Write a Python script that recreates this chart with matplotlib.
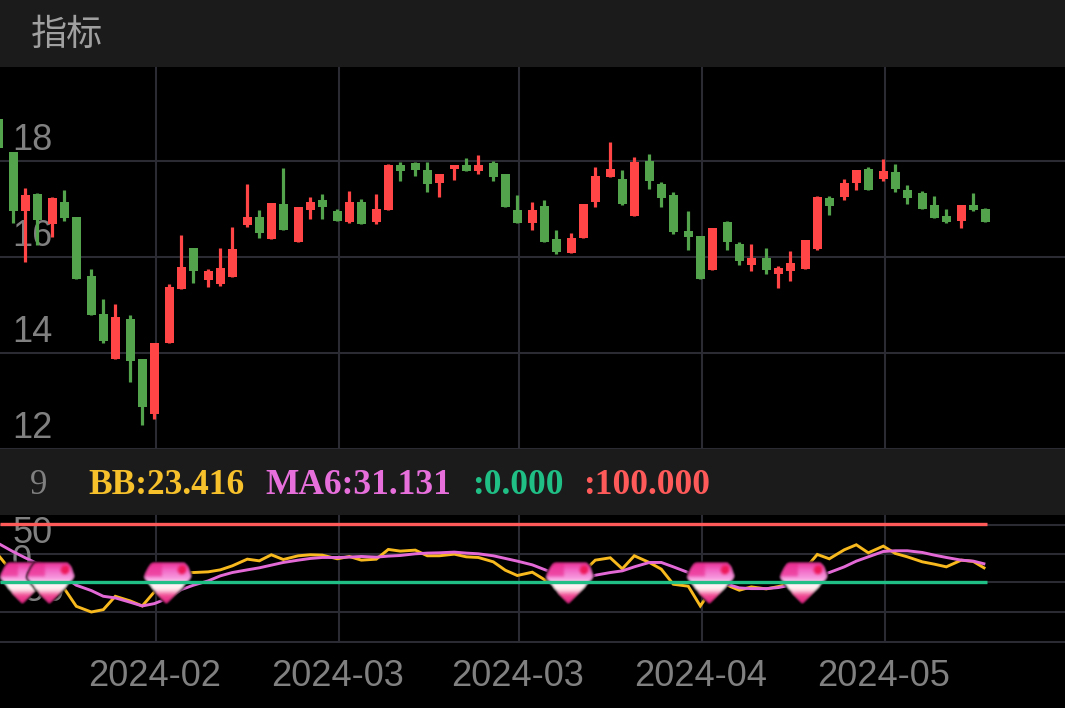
import numpy as np
import matplotlib
matplotlib.use("Agg")
import matplotlib.pyplot as plt
from matplotlib.offsetbox import OffsetImage, AnnotationBbox
from matplotlib.patches import Rectangle

opens = [18.885,18.19,16.975,17.32,16.70,17.15,16.84,15.61,14.82,13.89,14.71,13.88,12.75,14.21,15.35,16.20,15.53,15.45,15.60,16.68,16.85,16.39,17.11,16.315,16.98,17.19,16.97,16.73,
17.15,16.73,16.98,17.92,17.96,17.82,17.545,17.84,17.92,17.795,17.96,17.74,16.99,16.72,17.07,16.39,16.09,16.40,17.16,17.68,17.64,16.86,18.0,17.54,17.30,16.545,16.45,
15.74,16.75,16.28,15.84,15.99,15.66,15.72,15.77,16.18,17.23,17.27,17.56,17.84,17.64,17.79,17.40,17.34,17.09,16.86,16.76,17.09,17.0]
highs = [19.09,18.19,17.44,17.35,17.27,17.41,16.84,15.77,15.13,15.04,14.80,13.88,14.21,15.44,16.46,16.20,15.77,16.19,16.63,17.54,16.98,17.13,17.86,17.05,17.27,17.32,17.02,17.385,
17.22,17.32,17.95,17.98,17.98,17.98,17.73,17.93,18.07,18.135,18.0,17.74,17.30,17.16,17.19,16.57,16.51,17.11,17.88,18.41,17.82,18.09,18.16,17.57,17.36,16.97,16.45,
16.615,16.75,16.32,16.28,16.2,15.83,16.13,16.365,17.29,17.29,17.64,17.82,17.88,18.05,17.94,17.50,17.385,17.28,17.0,17.10,17.35,17.04]
lows = [18.27,16.71,15.91,16.26,16.42,16.77,15.56,14.80,14.21,13.89,13.41,12.52,12.64,14.21,15.35,15.475,15.38,15.41,15.60,16.63,16.41,16.39,16.57,16.315,16.81,16.81,16.77,16.71,
16.705,16.705,16.98,17.6,17.70,17.37,17.27,17.61,17.795,17.745,17.6,17.05,16.72,16.58,16.33,16.07,16.09,16.40,17.06,17.68,17.10,16.86,17.42,17.06,16.48,16.16,15.55,
15.74,16.16,15.84,15.72,15.66,15.37,15.51,15.77,16.16,16.89,17.2,17.40,17.40,17.59,17.36,17.11,17.01,16.83,16.71,16.615,16.96,16.73]
closes = [18.274,16.97,17.30,16.78,17.23,16.82,15.56,14.80,14.27,14.76,13.85,12.89,14.21,15.39,15.80,15.72,15.71,15.79,16.18,16.85,16.52,17.13,16.57,17.05,17.16,17.05,16.77,17.155,
16.705,17.0,17.92,17.80,17.82,17.54,17.73,17.93,17.795,17.93,17.68,17.05,16.72,16.98,16.33,16.12,16.40,17.11,17.70,17.85,17.11,17.98,17.59,17.23,16.54,16.43,15.55,
16.615,16.33,15.92,15.99,15.73,15.79,15.88,16.365,17.26,17.07,17.55,17.82,17.41,17.80,17.42,17.23,17.01,16.83,16.73,17.10,16.99,16.74]

bb = [46.5,14.9,-5.2,-13.8,-16.7,-10.9,-41.4,-51.2,-47.2,-24.2,-32.2,-40.8,-16.7,12.0,16.1,16.6,17.8,21.2,28.1,39.6,36.7,47.1,39.0,45.4,47.1,46.5,40.2,44.2,
37.9,39.6,56.3,53.4,55.1,45.4,45.4,48.2,43.6,42.5,35.0,20.6,11.5,17.2,4.6,-5.2,-5.2,17.8,37.9,41.9,23.0,45.4,33.9,22.4,-3.5,-6.9,
-40.8,-10.9,-5.2,-13.8,-8.1,-11.5,-7.5,-2.3,23.5,47.7,40.2,55.7,64.3,50.5,62.0,49.4,43.6,35.0,31.0,26.4,37.9,35.6,23.4]
ma6 = [66.6,52.3,41.9,32.1,21.8,9.2,-5.2,-14.4,-24.2,-27.0,-34.5,-40.8,-36.8,-26.5,-12.7,-5.2,2.3,10.9,16.6,21.2,24.7,29.3,33.9,37.9,40.8,42.5,42.5,43.1,
44.2,43.1,44.8,45.9,48.8,50.0,50.5,51.7,50.0,48.8,45.4,40.8,36.2,29.8,21.8,13.8,6.3,6.3,12.0,16.6,19.5,26.4,33.9,33.9,26.4,16.6,
3.4,-2.3,-3.5,-9.8,-11.0,-11.0,-9.2,-5.2,2.3,10.3,16.6,26.4,36.2,43.6,52.8,54.0,54.0,51.1,46.5,42.5,37.9,36.2,31.1]
lower_band = 0
upper_band = 100
signal_idx = [2, 4, 13, 44, 55, 62]

price_ticks = [18, 16, 14, 12]
osc_grid = [98, 48, 0, -51, -102]
osc_labels = ["50", "0", "-50"]
tick_idx = [12, 26, 40, 54, 68]
tick_labels = ["2024-02", "2024-03", "2024-03", "2024-04", "2024-05"]
legend_items = [("BB:23.416", "#f7c12c", 88), ("MA6:31.131", "#e66fdc", 265),
                (":0.000", "#1fbf86", 472), (":100.000", "#ff5a5a", 583)]

W, H = 1065, 708
plt.rcParams['font.family'] = ['Liberation Sans', 'Noto Sans CJK SC', 'DejaVu Sans']
fig = plt.figure(figsize=(W/100, H/100), dpi=100, facecolor='black')

def axes_px(x0, y0, x1, y1):
    return fig.add_axes([x0/W, 1-y1/H, (x1-x0)/W, (y1-y0)/H])

idx = np.arange(len(opens))
pos = np.floor(4.33*idx - 0.265)          # candle slots snap to whole points (3 px)
xlim = ((0-1.3)/3, (W-1.3)/3)
GRID = '#2b2b33'
RED, GREEN = '#ff4545', '#53a34c'
GRAY = '#808080'

# main
ax = axes_px(0, 67, W, 449)
ax.set_facecolor('black')
ax.set_xlim(xlim)
ax.set_ylim(18-(449-161.5)/48, 18+(161.5-67)/48)
for sp in ax.spines.values():
    sp.set_visible(False)
ax.set_xticks([]); ax.set_yticks([])
for t in price_ticks:
    ax.axhline(t, color=GRID, lw=1.5, zorder=1)
for i in tick_idx:
    ax.axvline(pos[i]+0.5, color=GRID, lw=1.5, zorder=1)
for p, o, h, l, c in zip(pos, opens, highs, lows, closes):
    col = RED if c >= o else GREEN
    ax.vlines(p, l, h, color=col, lw=2.3, zorder=3)
    ax.add_patch(Rectangle((p-1.5, min(o, c)), 3, abs(c-o), fc=col, ec='none', zorder=3))
for t in price_ticks:
    ax.annotate(str(t), (12/W, t), xycoords=('figure fraction', 'data'), xytext=(0, 2.3),
                textcoords='offset points', color=GRAY, fontsize=26, va='bottom', ha='left', zorder=2)

# oscillator
ax2 = axes_px(0, 515, W, 642)
ax2.set_facecolor('black')
ax2.set_xlim(xlim)
sc = 0.582
ax2.set_ylim(-(642-582.2)/sc, (582.2-515)/sc)
for sp in ax2.spines.values():
    sp.set_visible(False)
ax2.set_xticks([]); ax2.set_yticks([])
for t in osc_grid:
    ax2.axhline(t, color=GRID, lw=1.5, zorder=1)
for i in tick_idx:
    ax2.axvline(pos[i]+0.5, color=GRID, lw=1.5, zorder=1)
for t, s in zip(osc_grid[1:4], osc_labels):
    ax2.annotate(s, (12/W, t), xycoords=('figure fraction', 'data'), xytext=(0, 2.3),
                 textcoords='offset points', color=GRAY, fontsize=26, va='bottom', ha='left',
                 zorder=2, annotation_clip=False)
ax2.plot(pos, bb, color='#f7b91e', lw=2.1, zorder=3, solid_joinstyle='miter', solid_capstyle='butt')
ax2.plot(pos, ma6, color='#e36ad6', lw=2.1, zorder=4, solid_joinstyle='miter', solid_capstyle='butt')
ax2.plot([xlim[0], pos[-1]+0.5], [upper_band]*2, color='#ff5a5a', lw=2.4, zorder=7, solid_capstyle='butt')
ax2.plot([xlim[0], pos[-1]+0.5], [lower_band]*2, color='#1fbf86', lw=2.4, zorder=7, solid_capstyle='butt')

# diamond emoji drawn as a small soft image
def diamond_image(w=50, h=44, m=3):
    yy, xx = np.mgrid[0:h, 0:w]
    u = ((xx+0.5)-w/2)/(w/2-m)
    v = ((yy+0.5)-m)/(h-2*m)
    widest = 0.36
    low = np.clip(1-(v-widest)/(1-widest), 0, 1)**0.85
    half = np.where(v < widest, 0.62+0.38*np.sqrt(np.clip(v/widest, 0, 1)), low)
    uu = u - 0.10*(0.4-v)
    inside = (np.abs(uu) <= half) & (v >= 0) & (v <= 1)
    rgb = np.zeros((h, w, 3))
    stops_t = [0.0, 0.20, 0.40, 0.54, 0.66, 0.80, 1.0]
    stops_c = np.array([[0.92, 0.18, 0.58], [0.95, 0.42, 0.78], [0.97, 0.62, 0.88],
                        [1.0, 0.97, 0.97], [1.0, 0.90, 0.92], [0.94, 0.30, 0.58], [0.90, 0.12, 0.52]])
    for k in range(3):
        rgb[..., k] = np.interp(v, stops_t, stops_c[:, k])
    dark = (v < 0.34) & (uu < -0.25)
    rgb[dark] = rgb[dark]*0.35 + np.array([0.92, 0.16, 0.55])*0.65
    spot = ((uu-0.58)**2/0.03+(v-0.18)**2/0.012) < 1
    rgb[spot] = [0.93, 0.10, 0.36]
    alpha = inside.astype(float)
    kernel = np.array([1, 2, 3, 2, 1], float); kernel /= kernel.sum()
    def blur(a):
        a = np.apply_along_axis(lambda r: np.convolve(r, kernel, mode='same'), 0, a)
        return np.apply_along_axis(lambda r: np.convolve(r, kernel, mode='same'), 1, a)
    out = np.zeros((h, w, 4))
    for k in range(3):
        out[..., k] = blur(rgb[..., k]*alpha)      # edge fades to dark, as the emoji's rim does
    out[..., 3] = np.clip(blur(alpha)*2.2, 0, 1)
    return out

img = diamond_image()
for i in signal_idx:
    ab = AnnotationBbox(OffsetImage(img, zoom=0.78, interpolation='bilinear'),
                        (pos[i]-0.7, lower_band-2), xycoords='data', frameon=False, pad=0,
                        box_alignment=(0.5, 0.5), zorder=6, annotation_clip=False)
    ax2.add_artist(ab)

# bands and text
bg = fig.add_axes([0, 0, 1, 1], zorder=-1)
bg.set_xlim(0, W); bg.set_ylim(H, 0); bg.axis('off')
bg.add_patch(Rectangle((0, 0), W, 67, fc='#1b1b1b', ec='none'))
bg.add_patch(Rectangle((0, 449), W, 66, fc='#1b1b1b', ec='none'))
bg.add_patch(Rectangle((0, 640.5), W, 2.2, fc=GRID, ec='none'))

fig.text(31/W, 1-35/H, "指标", color='#a0a0a0', fontsize=26, va='center', ha='left',
         family=['Noto Sans CJK SC', 'DejaVu Sans'])
fig.text(38.5/W, 1-485/H, "9", color=GRAY, fontsize=25, va='center', ha='center', family='Liberation Serif')
for s, c, x in legend_items:
    fig.text(x/W, 1-485/H, s, color=c, fontsize=25.5, va='center', ha='left',
             family='Liberation Serif', weight='bold')
for i, s in zip(tick_idx, tick_labels):
    px = (pos[i]-xlim[0])*3
    fig.text(px/W, 1-676/H, s, color=GRAY, fontsize=26, va='center', ha='center')

fig.savefig('out.png', dpi=100, facecolor='black')
